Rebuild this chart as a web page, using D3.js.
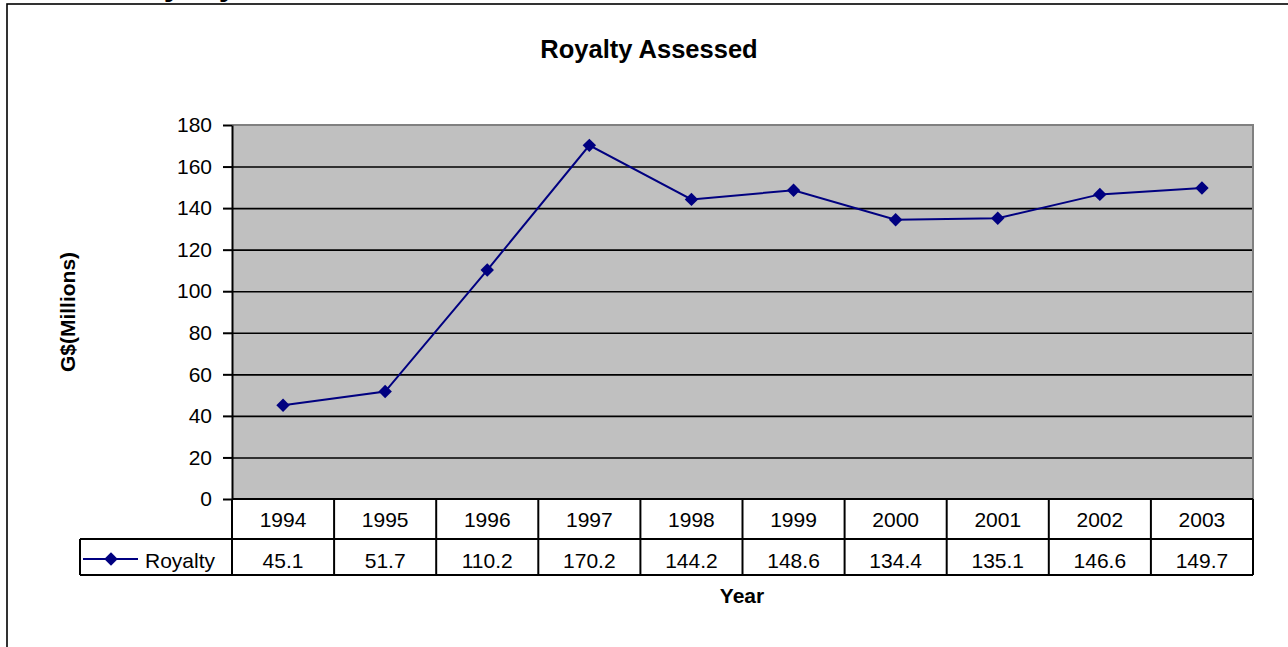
<!DOCTYPE html>
<html>
<head>
<title>Royalty Assessed</title>
<script src="https://d3js.org/d3.v7.min.js" charset="utf-8"></script>
<style>
body { margin: 0; background: #fff; font-family: "Liberation Sans", Arial, sans-serif; }
svg { display: block; }
.tick text { font-family: "Liberation Sans", Arial, sans-serif; }
</style>
</head>
<body>
<script>
// data
var years = ["1994","1995","1996","1997","1998","1999","2000","2001","2002","2003"];
var royalty = [45.1, 51.7, 110.2, 170.2, 144.2, 148.6, 134.4, 135.1, 146.6, 149.7];
var yTicks = [0, 20, 40, 60, 80, 100, 120, 140, 160, 180];
var seriesName = "Royalty";

var width = 1288, height = 647;
var plotLeft = 232, plotRight = 1253, plotTop = 125, plotBottom = 499;
var rowH1 = 40, rowH2 = 36, legendLeft = 80;
var navy = "#000080";
var fs = 21;

var svg = d3.select("body").append("svg")
  .attr("width", width).attr("height", height);

// cut-off heading above the chart frame
svg.append("text")
  .attr("x", 121).attr("y", -5.5)
  .attr("font-size", 32).attr("font-weight", "bold")
  .text("Royalty");

// chart frame
svg.append("rect")
  .attr("x", 7).attr("y", 4)
  .attr("width", 1300).attr("height", 700)
  .attr("fill", "none").attr("stroke", "#000").attr("stroke-width", 1.6);

var x = d3.scaleBand().domain(years).range([plotLeft, plotRight]);
var y = d3.scaleLinear().domain([0, 180]).range([plotBottom, plotTop]);

// plot area
svg.append("rect")
  .attr("x", plotLeft).attr("y", plotTop)
  .attr("width", plotRight - plotLeft).attr("height", plotBottom - plotTop)
  .attr("fill", "#c0c0c0");

// gridlines
var grid = svg.append("g")
  .attr("transform", "translate(" + plotLeft + ",0)")
  .call(d3.axisLeft(y).tickValues(yTicks.slice(1, -1)).tickSize(-(plotRight - plotLeft)).tickFormat(""));
grid.select(".domain").remove();
grid.selectAll("line").attr("stroke", "#000").attr("stroke-width", 1.6);

// gray top / right border of plot
svg.append("path")
  .attr("d", "M" + plotLeft + "," + plotTop + "H" + plotRight + "V" + plotBottom)
  .attr("fill", "none").attr("stroke", "#808080").attr("stroke-width", 2);

// y axis
var yAxis = svg.append("g")
  .attr("transform", "translate(" + plotLeft + ",0)")
  .call(d3.axisLeft(y).tickValues(yTicks).tickSize(9).tickPadding(11).tickSizeOuter(0));
yAxis.select(".domain").attr("stroke", "#000").attr("stroke-width", 2);
yAxis.selectAll("line").attr("stroke", "#000").attr("stroke-width", 2);
yAxis.selectAll("text").attr("font-size", fs).attr("fill", "#000");

// data table
var t = svg.append("g").attr("stroke", "#000").attr("stroke-width", 2).attr("fill", "none");
t.append("line").attr("x1", plotLeft).attr("x2", plotRight).attr("y1", plotBottom).attr("y2", plotBottom);
t.append("line").attr("x1", legendLeft).attr("x2", plotRight).attr("y1", plotBottom + rowH1).attr("y2", plotBottom + rowH1);
t.append("line").attr("x1", legendLeft).attr("x2", plotRight).attr("y1", plotBottom + rowH1 + rowH2).attr("y2", plotBottom + rowH1 + rowH2);
t.append("line").attr("x1", legendLeft).attr("x2", legendLeft).attr("y1", plotBottom + rowH1).attr("y2", plotBottom + rowH1 + rowH2);
t.selectAll(".col")
  .data(years.concat(["end"]))
  .enter().append("line")
  .attr("x1", function(d, i) { return i < years.length ? x(d) : plotRight; })
  .attr("x2", function(d, i) { return i < years.length ? x(d) : plotRight; })
  .attr("y1", plotBottom).attr("y2", plotBottom + rowH1 + rowH2);

svg.selectAll(".yearlab")
  .data(years).enter().append("text")
  .attr("x", function(d) { return x(d) + x.bandwidth() / 2; })
  .attr("y", plotBottom + 28)
  .attr("text-anchor", "middle").attr("font-size", fs)
  .text(function(d) { return d; });

svg.selectAll(".vallab")
  .data(royalty).enter().append("text")
  .attr("x", function(d, i) { return x(years[i]) + x.bandwidth() / 2; })
  .attr("y", plotBottom + rowH1 + 29)
  .attr("text-anchor", "middle").attr("font-size", fs)
  .text(function(d) { return d.toFixed(1); });

// legend key in table
var diamond = d3.symbol().type(d3.symbolDiamond2).size(115);
svg.append("line")
  .attr("x1", 83).attr("x2", 138)
  .attr("y1", plotBottom + rowH1 + 20).attr("y2", plotBottom + rowH1 + 20)
  .attr("stroke", navy).attr("stroke-width", 2);
svg.append("path")
  .attr("d", diamond)
  .attr("transform", "translate(111," + (plotBottom + rowH1 + 20) + ")")
  .attr("fill", navy);
svg.append("text")
  .attr("x", 145).attr("y", plotBottom + rowH1 + 29)
  .attr("font-size", fs)
  .text(seriesName);

// series line
var line = d3.line()
  .x(function(d, i) { return x(years[i]) + x.bandwidth() / 2; })
  .y(function(d) { return y(d); });
svg.append("path")
  .datum(royalty)
  .attr("d", line)
  .attr("fill", "none").attr("stroke", navy).attr("stroke-width", 2);
svg.selectAll(".pt")
  .data(royalty).enter().append("path")
  .attr("d", diamond)
  .attr("transform", function(d, i) { return "translate(" + (x(years[i]) + x.bandwidth() / 2) + "," + y(d) + ")"; })
  .attr("fill", navy);

// titles
svg.append("text")
  .attr("x", 649).attr("y", 58)
  .attr("text-anchor", "middle").attr("font-size", 25.5).attr("font-weight", "bold")
  .text("Royalty Assessed");
svg.append("text")
  .attr("x", 742).attr("y", 603)
  .attr("text-anchor", "middle").attr("font-size", 21).attr("font-weight", "bold")
  .text("Year");
svg.append("text")
  .attr("transform", "translate(75,312) rotate(-90)")
  .attr("text-anchor", "middle").attr("font-size", 21).attr("font-weight", "bold")
  .text("G$(Millions)");
</script>
</body>
</html>
